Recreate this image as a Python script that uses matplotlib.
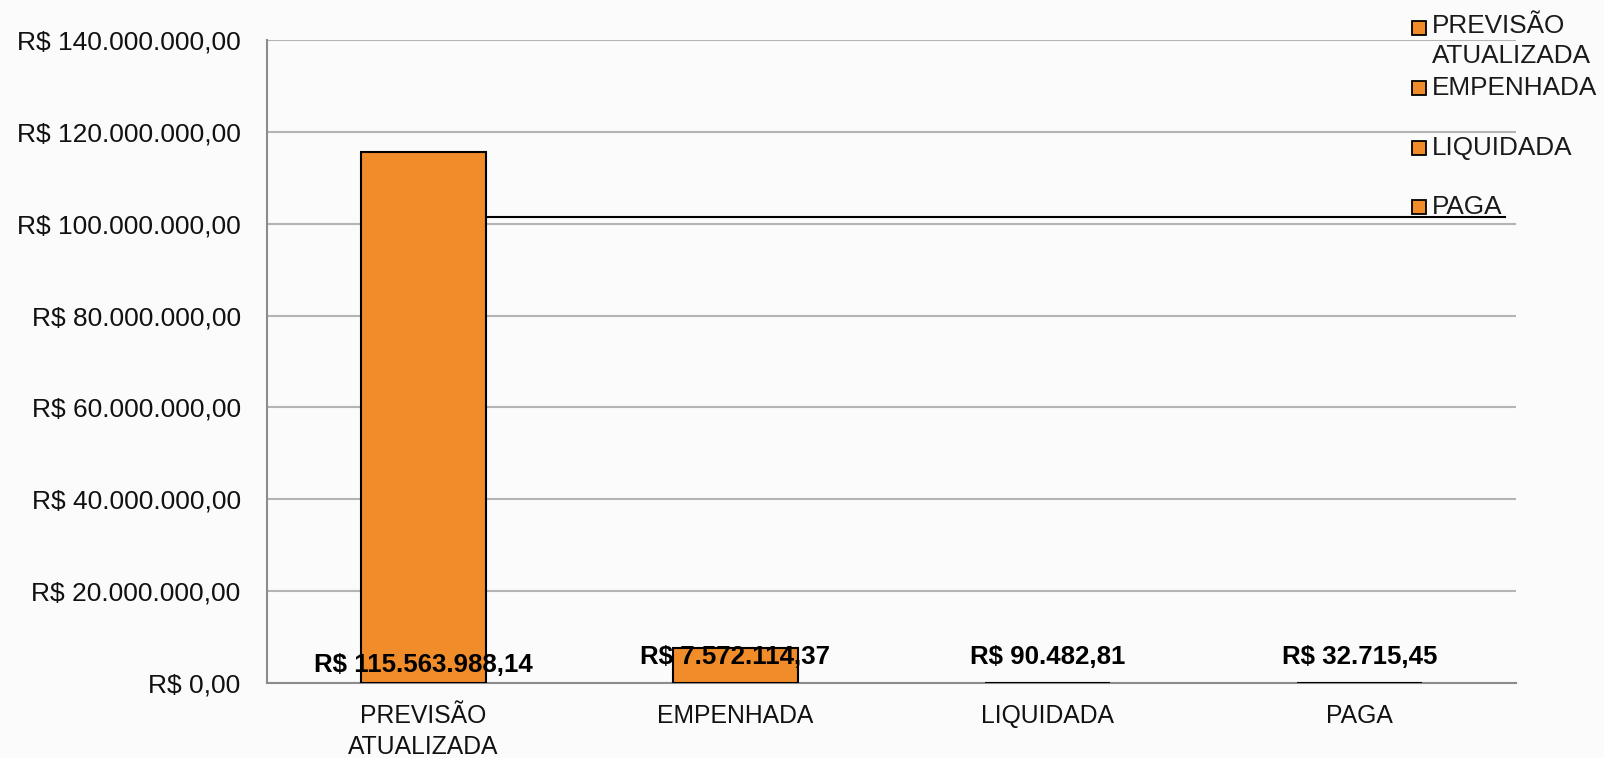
import matplotlib
matplotlib.use("Agg")
import matplotlib.pyplot as plt
from matplotlib.lines import Line2D
from matplotlib.ticker import FuncFormatter

plt.rcParams['font.family'] = ['Liberation Sans', 'DejaVu Sans']

# data
categories = ["PREVISÃO ATUALIZADA", "EMPENHADA", "LIQUIDADA", "PAGA"]
values = [115563988.14, 7572114.37, 90482.81, 32715.45]
yticks = [0, 20e6, 40e6, 60e6, 80e6, 100e6, 120e6, 140e6]


def brl(v):
    # brazilian money format: R$ 1.234.567,89
    s = "{:,.2f}".format(v)
    s = s.replace(",", "X").replace(".", ",").replace("X", ".")
    return "R$ " + s


bar_color = "#F08C2A"
grid_color = "#B4B4B4"

fig = plt.figure(figsize=(16.04, 7.58), dpi=100)
fig.patch.set_facecolor("#FBFBFB")
ax = fig.add_axes([0.1665, 0.0989, 0.7786, 0.8483])
ax.set_facecolor("none")

x = range(len(categories))
bars = ax.bar(x, values, width=0.4, color=bar_color, edgecolor="black",
              linewidth=1.5, zorder=3)

ax.set_ylim(0, 140e6)
ax.set_xlim(-0.5, len(categories) - 0.5)
ax.set_yticks(yticks)
ax.yaxis.set_major_formatter(FuncFormatter(lambda v, p: brl(v)))
ax.grid(axis="y", color=grid_color, linewidth=1.5, zorder=0)
ax.set_xticks(list(x))
ax.set_xticklabels([c.replace(" ", "\n") for c in categories],
                   fontsize=17.8, linespacing=1.4)
ax.tick_params(axis="y", length=0, pad=19, labelsize=19, labelcolor="#111111")
ax.tick_params(axis="x", length=0, pad=15, labelcolor="#111111")

for s in ["top", "right"]:
    ax.spines[s].set_visible(False)
for s in ["left", "bottom"]:
    ax.spines[s].set_color("#8C8C8C")
    ax.spines[s].set_linewidth(1.5)

# value labels near the base
offsets = [13, 19, 19, 19]
for i, v in enumerate(values):
    ax.annotate(brl(v), xy=(i, 0), xytext=(0, offsets[i]),
                textcoords="offset points", ha="center", va="center",
                fontsize=18.6, fontweight="bold", zorder=5)

# stray black line from the chart
fig.add_artist(Line2D([0.303, 0.938], [0.7137, 0.7137], color="black",
                      linewidth=1.5))

# legend drawn by hand (uneven spacing)
leg_y = [1 - 28 / 758, 1 - 88 / 758, 1 - 148 / 758, 1 - 207 / 758]
for i, c in enumerate(categories):
    fig.add_artist(Line2D([1419 / 1604], [leg_y[i]], marker="s",
                          markersize=10, markerfacecolor=bar_color,
                          markeredgecolor="black", markeredgewidth=1.3,
                          linestyle="none"))
    if i == 0:
        fig.text(1432 / 1604, leg_y[i] + 14 / 758, c.replace(" ", "\n"),
                 ha="left", va="top", fontsize=18.8, color="#1A1A1A",
                 linespacing=1.3)
    else:
        fig.text(1432 / 1604, leg_y[i], c, ha="left", va="center",
                 fontsize=18.8, color="#1A1A1A")

fig.savefig("out.png", dpi=100, facecolor=fig.get_facecolor())
